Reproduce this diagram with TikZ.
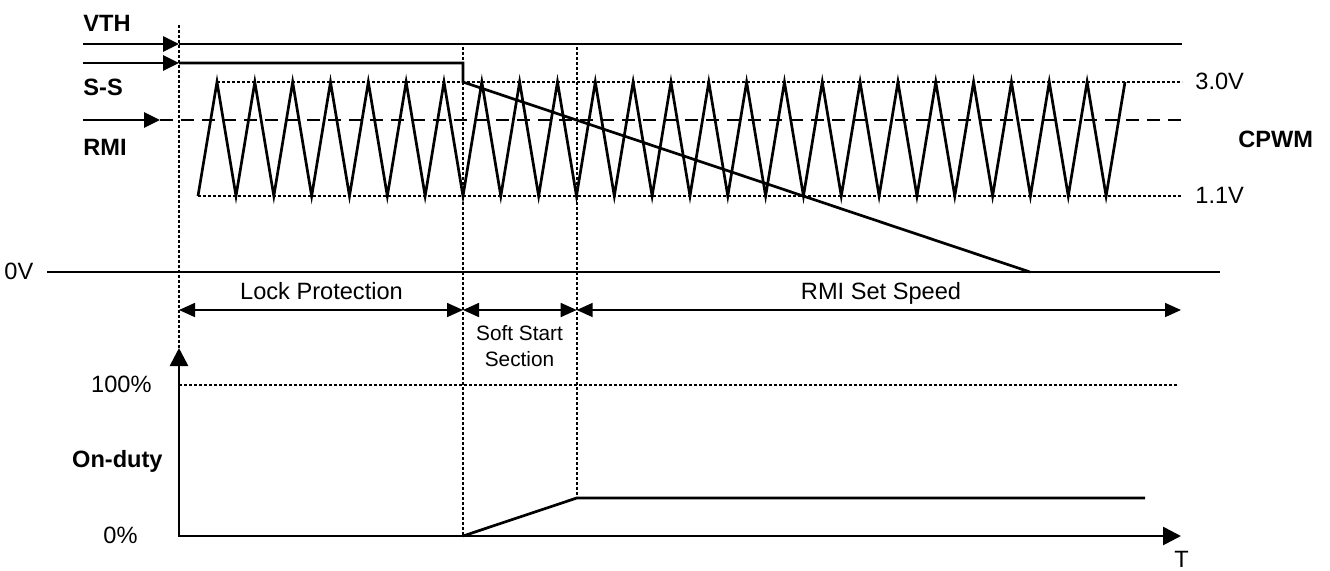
\documentclass[tikz,border=0pt]{standalone}
\usepackage{fontspec}
\setmainfont{Liberation Sans}
\usetikzlibrary{arrows.meta, positioning}
\tikzset{
    sig/.style={line width=1.35pt},
    dotline/.style={line width=1pt, dash pattern=on 1.3pt off 1.2pt},
    refline/.style={line width=1pt, dash pattern=on 6.5pt off 4pt},
    inarrow/.style={sig, -{Triangle[length=8pt,width=7.5pt]}},
    span/.style={line width=0.85pt, {Triangle[length=8pt,width=7pt]}-{Triangle[length=8pt,width=7pt]}},
    axis/.style={sig, {Triangle[length=9pt,width=9pt]}-{Triangle[length=9pt,width=9pt]}},
    lbl/.style={inner sep=0pt, font=\fontsize{11.8}{14}\selectfont},
    boldlbl/.style={inner sep=0pt, font=\fontsize{11.8}{14}\selectfont\bfseries},
    smalllbl/.style={inner sep=0pt, align=center, font=\fontsize{10.4}{13}\selectfont}
}

\begin{document}
\begin{tikzpicture}[x=0.5pt,y=-0.5pt]
\useasboundingbox (0,0) rectangle (1330,570);

% Input levels
\coordinate (vthin) at (83,44);
\coordinate (vth0) at (179,44);
\coordinate (vth1) at (1182,44);
\draw[inarrow] (vthin) -- (vth0);
\draw[sig] (vth0) -- (vth1);
\node[boldlbl, anchor=base west] (vth) at (83,31) {VTH};

\coordinate (ssin) at (83,63);
\coordinate (ss0) at (179,63);
\coordinate (ss1) at (463,63);
\coordinate (ss2) at (463,82);
\coordinate (ss3) at (1030,272);
\draw[inarrow] (ssin) -- (ss0);
\draw[sig] (ss0) -- (ss1) -- (ss2) -- (ss3);
\node[boldlbl, anchor=base west] (ss) at (83,95) {S-S};

\coordinate (rmiin) at (83,120);
\coordinate (rmi0) at (160,120);
\coordinate (rmi1) at (1182,120);
\draw[inarrow] (rmiin) -- (rmi0);
\draw[refline] (rmi0) -- (rmi1);
\node[boldlbl, anchor=base west] (rmi) at (83,155) {RMI};

% CPWM triangle
\coordinate (hi0) at (217,82);
\coordinate (hi1) at (1182,82);
\coordinate (lo0) at (198,196);
\coordinate (lo1) at (1182,196);
\draw[dotline] (hi0) -- (hi1);
\draw[dotline] (lo0) -- (lo1);
\draw[sig, line join=miter] (lo0)
    \foreach \k in {0,...,23} { -- ({217+37.83*\k},82) -- ({236+37.83*\k},196) }
    -- (1125,82);
\node[lbl, anchor=base west] (hilbl) at (1195,89.5) {3.0V};
\node[lbl, anchor=base west] (lolbl) at (1195,203.5) {1.1V};
\node[boldlbl, anchor=base west] (cpwm) at (1238,147) {CPWM};

% 0V line
\coordinate (zv0) at (47,272);
\coordinate (zv1) at (1220,272);
\draw[sig] (zv0) -- (zv1);
\node[lbl, anchor=base west] (zv) at (4,279.5) {0V};

% Section marks
\coordinate (m0a) at (179,25);
\coordinate (m0b) at (179,348);
\coordinate (m1a) at (463,47);
\coordinate (m1b) at (463,536);
\coordinate (m2a) at (576.7,47);
\coordinate (m2b) at (576.7,498);
\draw[dotline] (m0a) -- (m0b);
\draw[dotline] (m1a) -- (m1b);
\draw[dotline] (m2a) -- (m2b);

\coordinate (s0) at (179,310);
\coordinate (s1) at (463,310);
\coordinate (s2) at (576.7,310);
\coordinate (s3) at (1181,310);
\draw[span] (s0) -- (s1);
\draw[span] (s1) -- (s2);
\draw[span] (s2) -- (s3);
\node[lbl, anchor=base] (lock) at (321.5,299) {Lock Protection};
\node[smalllbl] (soft) at (519.5,346) {Soft Start\\Section};
\node[lbl, anchor=base] (setspeed) at (881,299) {RMI Set Speed};

% On-duty
\coordinate (ytop) at (179,348);
\coordinate (orig) at (179,536);
\coordinate (tend) at (1181,536);
\draw[axis] (ytop) -- (orig) -- (tend);
\coordinate (full0) at (179,385);
\coordinate (full1) at (1178,385);
\draw[dotline] (full0) -- (full1);
\coordinate (duty0) at (463,536);
\coordinate (duty1) at (576.7,498);
\coordinate (duty2) at (1145,498);
\draw[sig] (duty0) -- (duty1) -- (duty2);
\node[lbl, anchor=base east] (fulllbl) at (152,392.5) {100\%};
\node[boldlbl, anchor=base east] (onduty) at (163,467) {On-duty};
\node[lbl, anchor=base east] (zerolbl) at (138,543.5) {0\%};
\node[lbl, anchor=base] (tlbl) at (1181.5,567) {T};
\end{tikzpicture}
\end{document}
